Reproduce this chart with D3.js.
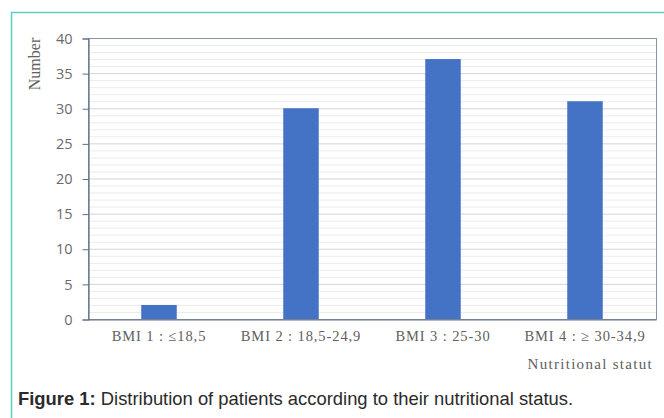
<!DOCTYPE html>
<html>
<head>
<meta charset="utf-8">
<script src="https://cdn.jsdelivr.net/npm/d3@7"></script>
<style>
  html, body { margin: 0; padding: 0; background: #fff; }
  svg { display: block; }
</style>
</head>
<body>
<svg id="chart" width="664" height="418"></svg>
<script>
// Nutritional status categories and patient counts
const categories = ["BMI 1 : \u226418,5", "BMI 2 : 18,5-24,9", "BMI 3 : 25-30", "BMI 4 : \u2265 30-34,9"];
const counts = [2, 30, 37, 31];
const yTicks = [0, 5, 10, 15, 20, 25, 30, 35, 40];
const yMinorTicks = d3.range(0, 41, 1);

const svg = d3.select("#chart");
const W = 664, H = 418;

// Panel frame (teal left and top edges)
svg.append("path")
  .attr("d", `M11.5,${H} V12.5 H${W}`)
  .attr("fill", "none")
  .attr("stroke", "#5ccfc0")
  .attr("stroke-width", 1.5);

const plot = { left: 88, right: 656, top: 38, bottom: 319 };

const x = d3.scaleBand()
  .domain(categories)
  .range([plot.left, plot.right])
  .paddingInner(0.75)
  .paddingOuter(0.375);

const y = d3.scaleLinear()
  .domain([0, 40])
  .range([plot.bottom, plot.top]);

// Minor gridlines
svg.append("g")
  .selectAll("line")
  .data(yMinorTicks.filter(v => v % 5 !== 0))
  .join("line")
  .attr("x1", plot.left).attr("x2", plot.right)
  .attr("y1", d => y(d) + 0.5).attr("y2", d => y(d) + 0.5)
  .attr("stroke", "#ececec")
  .attr("stroke-width", 1);

// Major gridlines
svg.append("g")
  .selectAll("line")
  .data(yTicks.filter(v => v > 0))
  .join("line")
  .attr("x1", plot.left).attr("x2", plot.right)
  .attr("y1", d => y(d) + 0.5).attr("y2", d => y(d) + 0.5)
  .attr("stroke", "#d4d4d4")
  .attr("stroke-width", 1);

// Plot area border
svg.append("rect")
  .attr("x", plot.left + 0.5)
  .attr("y", plot.top + 0.5)
  .attr("width", plot.right - plot.left)
  .attr("height", plot.bottom - plot.top)
  .attr("fill", "none")
  .attr("stroke", "#8796a6")
  .attr("stroke-width", 1);

// Bars
svg.append("g")
  .selectAll("rect")
  .data(categories.map((c, i) => ({ c, v: counts[i] })))
  .join("rect")
  .attr("x", d => x(d.c))
  .attr("y", d => y(d.v))
  .attr("width", x.bandwidth())
  .attr("height", d => y(0) - y(d.v))
  .attr("fill", "#4472c4");

// Y axis
const yAxis = svg.append("g")
  .attr("transform", `translate(${plot.left + 0.5},0.5)`)
  .call(d3.axisLeft(y).tickValues(yTicks).tickSize(6).tickPadding(10));
yAxis.select(".domain").attr("stroke", "#5e7185").attr("stroke-width", 1.2);
yAxis.selectAll(".tick line").attr("stroke", "#5e7185");
yAxis.selectAll(".tick text")
  .attr("fill", "#6a6a6a")
  .attr("font-family", "'Open Sans', 'Noto Sans', sans-serif")
  .attr("font-size", 14.5);

// X axis baseline
const xAxis = svg.append("g")
  .attr("transform", `translate(0,${plot.bottom + 0.5})`)
  .call(d3.axisBottom(x).tickSize(0).tickPadding(11));
xAxis.select(".domain").attr("stroke", "#5e7185").attr("stroke-width", 1.2);
xAxis.selectAll(".tick text")
  .attr("fill", "#606060")
  .attr("font-family", "'Liberation Serif', 'DejaVu Serif', serif")
  .attr("font-size", 14.5)
  .attr("letter-spacing", 0.9);

// Axis titles
svg.append("text")
  .attr("transform", "translate(40,64) rotate(-90)")
  .attr("text-anchor", "middle")
  .attr("fill", "#606060")
  .attr("font-family", "'Liberation Serif', serif")
  .attr("font-size", 16)
  .text("Number");

svg.append("text")
  .attr("x", 653)
  .attr("y", 369)
  .attr("text-anchor", "end")
  .attr("fill", "#606060")
  .attr("font-family", "'Liberation Serif', serif")
  .attr("font-size", 15)
  .attr("letter-spacing", 1.3)
  .text("Nutritional  statut");

// Caption
const cap = svg.append("text")
  .attr("x", 18)
  .attr("y", 405)
  .attr("fill", "#2a2a2a")
  .attr("font-family", "'Liberation Sans', Arial, sans-serif")
  .attr("font-size", 18.4);
cap.append("tspan").attr("font-weight", "bold").text("Figure 1:");
cap.append("tspan").text(" Distribution of patients according to their nutritional status.");
</script>
</body>
</html>
